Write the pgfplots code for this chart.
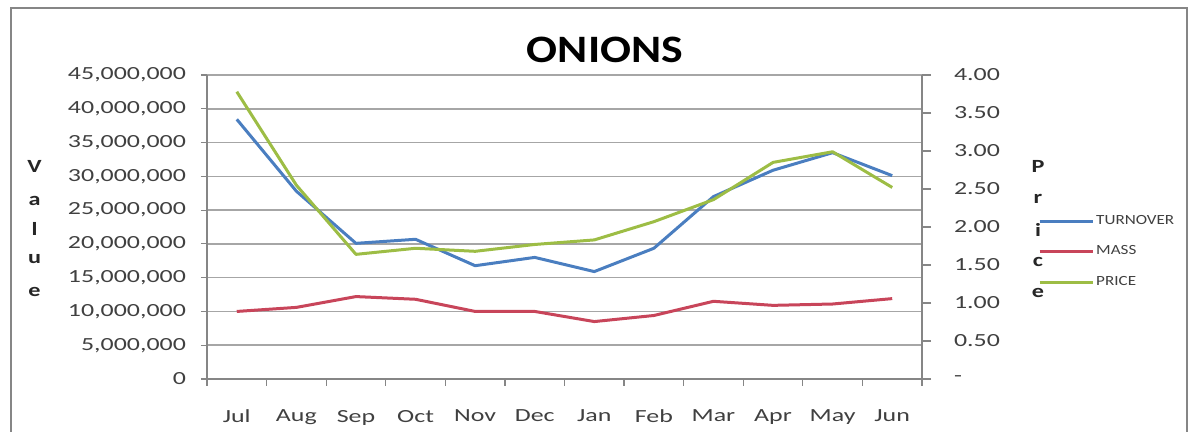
\documentclass[border=0pt]{standalone}
\usepackage{fontspec}
\usepackage{graphicx}
\usepackage{pgfplots}
\pgfplotsset{compat=1.18}
\setmainfont{Carlito}
\newfontfamily\tickfont{Carlito}[FakeStretch=1.4]
\newfontfamily\titlefont{Carlito}[FakeStretch=1.18]
\newfontfamily\labfont{Carlito}[FakeStretch=1.3]
\newfontfamily\legfont{Carlito}[FakeStretch=1.22]
\definecolor{cturn}{HTML}{4A7EC0}
\definecolor{cmass}{HTML}{C8455A}
\definecolor{cprice}{HTML}{9DBD45}
\definecolor{cgrid}{HTML}{A6A6A6}
\definecolor{caxis}{HTML}{868686}
\definecolor{ctext}{HTML}{404040}
\begin{document}
\begin{tikzpicture}
\useasboundingbox (0,0) rectangle (597pt,216pt);
% outer frame
\draw[color=caxis,line width=1.2pt] (5.5pt,0pt) -- (5.5pt,212pt) -- (593.5pt,212pt) -- (593.5pt,0pt);
% title
\node[anchor=base,font=\titlefont\bfseries\fontsize{19.4}{22}\selectfont] at (302.5pt,184.5pt) {ONIONS};
% y label letters
\foreach \l/\yy in {V/173,a/206,l/236,u/264,e/297}{
  \node[anchor=base,inner sep=0pt,font=\labfont\bfseries\fontsize{9.3}{10}\selectfont,color=black!85] at (17.25pt,{(432-\yy)/2*1pt}) {\l};
}
\foreach \l/\yy in {P/173,r/204,i/237,c/267,e/298}{
  \node[anchor=base,inner sep=0pt,font=\labfont\bfseries\fontsize{9.3}{10}\selectfont,color=black!85] at (519pt,{(432-\yy)/2*1pt}) {\l};
}
\begin{axis}[
  at={(103.5pt,26.5pt)}, anchor=south west,
  scale only axis, width=357.5pt, height=152pt,
  xmin=-0.5, xmax=11.5, ymin=0, ymax=45000000,
  scaled y ticks=false,
  axis x line*=bottom, axis y line*=left,
  axis line style={color=caxis,line width=0.6pt},
  xtick={0,...,11},
  xticklabels={Jul,Aug,Sep,Oct,Nov,Dec,Jan,Feb,Mar,Apr,May,Jun},
  major x tick style={draw=none},
  minor xtick={-0.5,0.5,...,11.5},
  minor tick length=3.5pt, major tick length=3pt,
  tick align=outside,
  tick style={color=caxis,line width=0.6pt},
  ytick={0,5000000,10000000,15000000,20000000,25000000,30000000,35000000,40000000,45000000},
  yticklabels={0,{5,000,000},{10,000,000},{15,000,000},{20,000,000},{25,000,000},{30,000,000},{35,000,000},{40,000,000},{45,000,000}},
  ymajorgrids, grid style={color=cgrid,line width=0.75pt},
  ticklabel style={font=\tickfont\fontsize{9.25}{11}\selectfont,color=ctext},
  yticklabel style={xshift=-4pt},
  xticklabel style={yshift=-9pt},
  clip=false,
]
\addplot[color=cturn,line width=1.5pt,line join=round] coordinates {
(0,38440000) (1,27800000) (2,20080000) (3,20680000) (4,16770000) (5,18000000)
(6,15900000) (7,19350000) (8,27000000) (9,30900000) (10,33500000) (11,30100000)};
\addplot[color=cmass,line width=1.5pt,line join=round] coordinates {
(0,10000000) (1,10600000) (2,12200000) (3,11800000) (4,10000000) (5,10000000)
(6,8500000) (7,9400000) (8,11500000) (9,10900000) (10,11100000) (11,11900000)};
\end{axis}
\begin{axis}[
  at={(103.5pt,26.5pt)}, anchor=south west,
  scale only axis, width=357.5pt, height=152pt,
  xmin=-0.5, xmax=11.5, ymin=0, ymax=4,
  axis x line=none, axis y line*=right,
  axis line style={color=caxis,line width=0.6pt},
  tick align=outside, major tick length=4.5pt,
  tick style={color=caxis,line width=0.6pt},
  ytick={0,0.5,1,1.5,2,2.5,3,3.5,4},
  yticklabels={-,0.50,1.00,1.50,2.00,2.50,3.00,3.50,4.00},
  ticklabel style={font=\tickfont\fontsize{9.25}{11}\selectfont,color=ctext},
  yticklabel style={xshift=8pt},
  legend style={at={(1.162,0.418)}, anchor=west, draw=none, fill=none,
    inner sep=0pt, row sep=7pt,
    font=\legfont\fontsize{7}{8}\selectfont, text=ctext,
    nodes={inner sep=1pt}},
  legend cell align=left,
  legend image code/.code={\draw[#1] (0pt,0pt) -- (26.5pt,0pt);},
  clip=false,
]
\addlegendimage{color=cturn,line width=1.5pt}
\addlegendentry{TURNOVER}
\addlegendimage{color=cmass,line width=1.5pt}
\addlegendentry{MASS}
\addplot[color=cprice,line width=1.5pt,line join=round] coordinates {
(0,3.78) (1,2.55) (2,1.64) (3,1.72) (4,1.68) (5,1.77)
(6,1.83) (7,2.07) (8,2.36) (9,2.85) (10,2.99) (11,2.52)};
\addlegendentry{PRICE}
\end{axis}
\end{tikzpicture}
\end{document}
